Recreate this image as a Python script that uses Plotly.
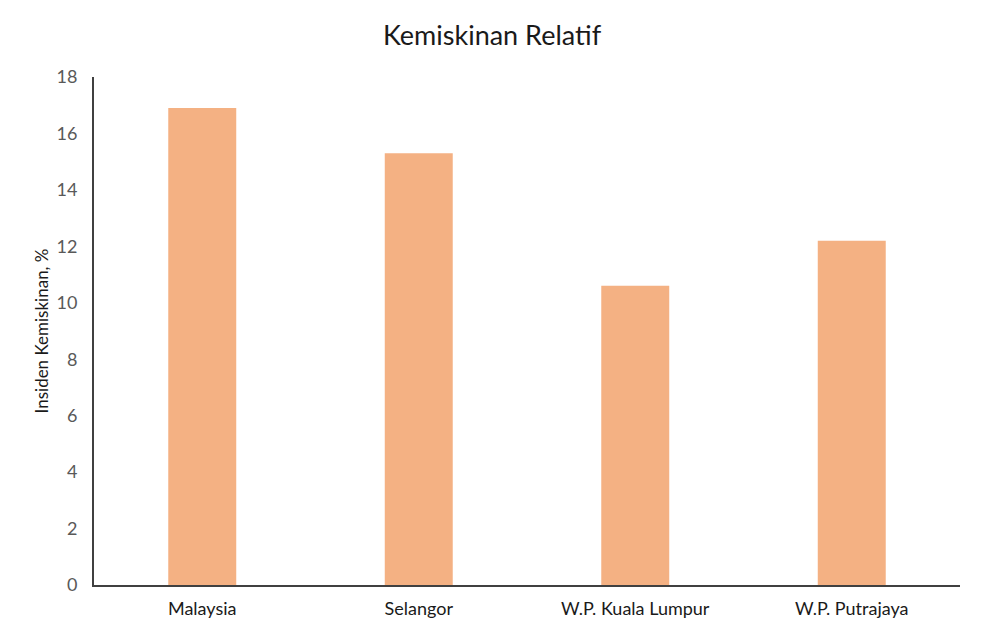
import plotly.graph_objects as go

categories = ["Malaysia", "Selangor", "W.P. Kuala Lumpur", "W.P. Putrajaya"]
values = [16.9, 15.3, 10.6, 12.2]
y_ticks = [0, 2, 4, 6, 8, 10, 12, 14, 16, 18]

fig = go.Figure(go.Bar(x=categories, y=values, marker_color="#F4B183", marker_line_width=0))

font = "Lato, 'Noto Sans', sans-serif"
fig.update_layout(
    width=984, height=633,
    margin=dict(l=86, r=32, t=69, b=56),
    paper_bgcolor="white", plot_bgcolor="white",
    bargap=0.686,
    showlegend=False,
    title=dict(text="Kemiskinan Relatif", x=0.4919, xanchor="center", y=0.956, yanchor="middle",
               font=dict(family=font, size=27, color="#1a1a1a")),
    font=dict(family=font),
)
fig.update_xaxes(showline=True, linecolor="#404040", linewidth=2, showgrid=False, ticks="",
                 ticklabelstandoff=6,
                 tickfont=dict(family=font, size=18, color="#1a1a1a"))
fig.update_yaxes(range=[0, 18], tickvals=y_ticks, showline=True, linecolor="#404040", linewidth=2,
                 showgrid=False, ticks="", zeroline=False, ticklabelstandoff=11,
                 tickfont=dict(family=font, size=18, color="#595959"),
                 title=dict(text="Insiden Kemiskinan, %", font=dict(family=font, size=17, color="#1a1a1a"), standoff=4))
fig.write_html("out.html")
